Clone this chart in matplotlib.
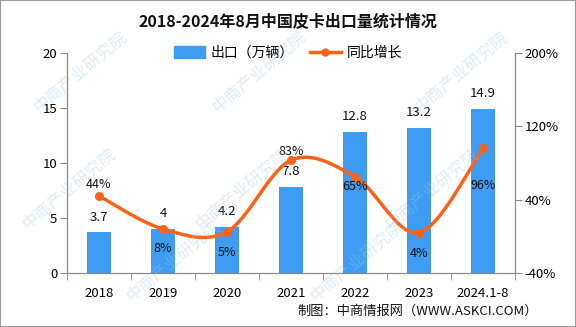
import numpy as np
import matplotlib.pyplot as plt
from matplotlib.lines import Line2D
from matplotlib.patches import Patch, Rectangle

plt.rcParams['font.family'] = ['Noto Sans CJK SC', 'DejaVu Sans']

years = ['2018', '2019', '2020', '2021', '2022', '2023', '2024.1-8']
export = [3.7, 4, 4.2, 7.8, 12.8, 13.2, 14.9]
growth = [44, 8, 5, 83, 65, 4, 96]
growth_labels = ['44%', '8%', '5%', '83%', '65%', '4%', '96%']
# label offsets in points: above (+) or below (-) the marker
growth_offsets = [8, -14, -15, 6, -7, -15, -27]

BLUE = '#3E9CF2'
ORANGE = '#FF6216'
GREY = '#888888'


def smooth_curve(x, y, n=30, t=0.5):
    """Catmull-Rom style bezier curve through the points (drawing only)."""
    x = np.asarray(x, float)
    y = np.asarray(y, float)
    px, py = [], []
    for i in range(len(x) - 1):
        x0, y0 = (x[i - 1], y[i - 1]) if i > 0 else (x[i], y[i])
        x3, y3 = (x[i + 2], y[i + 2]) if i + 2 < len(x) else (x[i + 1], y[i + 1])
        x1, y1, x2, y2 = x[i], y[i], x[i + 1], y[i + 1]
        c1x = x1 + (x2 - x0) * t / 3
        c1y = y1 + (y2 - y0) * t / 3
        c2x = x2 - (x3 - x1) * t / 3
        c2y = y2 - (y3 - y1) * t / 3
        s = np.linspace(0, 1, n)
        bx = (1 - s) ** 3 * x1 + 3 * (1 - s) ** 2 * s * c1x + 3 * (1 - s) * s ** 2 * c2x + s ** 3 * x2
        by = (1 - s) ** 3 * y1 + 3 * (1 - s) ** 2 * s * c1y + 3 * (1 - s) * s ** 2 * c2y + s ** 3 * y2
        px.extend(bx)
        py.extend(by)
    return np.array(px), np.array(py)


fig = plt.figure(figsize=(5.76, 3.27), dpi=100)
ax = fig.add_axes([67 / 576, 1 - 273 / 327, 448 / 576, 220 / 327])
ax2 = ax.twinx()

x = np.arange(len(years))
ax.bar(x, export, width=0.36, color=BLUE, zorder=2)
for xi, v in zip(x, export):
    ax.annotate(f'{v:g}', (xi, v), xytext=(0, 11), textcoords='offset points',
                ha='center', va='center', fontsize=9.5, color='#111111')

ax.set_xlim(-0.5, len(years) - 0.5)
ax.set_ylim(0, 20)
ax.set_yticks([0, 5, 10, 15, 20])
ax.set_xticks(x)
ax.set_xticklabels(years)
ax.set_xticks(np.arange(-0.5, len(years), 1), minor=True)
ax.tick_params(axis='x', which='major', length=0, pad=10, labelsize=9.5)
ax.tick_params(axis='x', which='minor', length=5, color=GREY)
ax.tick_params(axis='y', length=5, color=GREY, labelsize=9.5, pad=2)

ax2.set_ylim(-40, 200)
ax2.set_yticks([-40, 40, 120, 200])
ax2.set_yticklabels(['-40%', '40%', '120%', '200%'])
ax2.tick_params(axis='y', length=5, color=GREY, labelsize=9.5, pad=2)

for a in (ax, ax2):
    a.spines['top'].set_visible(False)
    for s in ('left', 'right', 'bottom'):
        a.spines[s].set_color(GREY)

sx, sy = smooth_curve(x, growth)
ax2.plot(sx, sy, color=ORANGE, lw=2.5, zorder=3)
ax2.plot(x, growth, 'o', color=ORANGE, ms=5.5, zorder=4)
for xi, v, lab, off in zip(x, growth, growth_labels, growth_offsets):
    ax2.annotate(lab, (xi, v), xytext=(0, off), textcoords='offset points',
                 ha='center', va='center', fontsize=9, color='#111111', zorder=5)

# watermarks
for wx, wy in [(0.14, 0.78), (0.45, 0.78), (0.8, 0.78), (0.12, 0.42), (0.42, 0.42),
               (0.75, 0.42), (0.3, 0.2), (0.62, 0.2)]:
    fig.text(wx, wy, '中商产业研究院', rotation=40, fontsize=12, color='#9EC8EC',
             alpha=0.35, ha='center', va='center', zorder=0)

fig.text(0.5, 1 - 22 / 327, '2018-2024年8月中国皮卡出口量统计情况', ha='center', va='center',
         fontsize=11.5, fontweight='bold', color='#111111')

handles = [Patch(color=BLUE), Line2D([], [], color=ORANGE, lw=2.5, marker='o', ms=5)]
fig.legend(handles, ['出口（万辆）', '同比增长'], loc='center', bbox_to_anchor=(0.5, 1 - 53 / 327),
           ncol=2, frameon=False, fontsize=10, handlelength=2.2, handleheight=0.9,
           columnspacing=1.2, handletextpad=0.4)

fig.text(538 / 576, 1 - 311 / 327, '制图：中商情报网（WWW.ASKCI.COM）', ha='right', va='center',
         fontsize=9.5, color='#111111')

fig.add_artist(Rectangle((0, 0), 1, 1, transform=fig.transFigure, fill=False,
                         edgecolor='#999999', lw=1.5))

fig.savefig('out.png', dpi=100)
